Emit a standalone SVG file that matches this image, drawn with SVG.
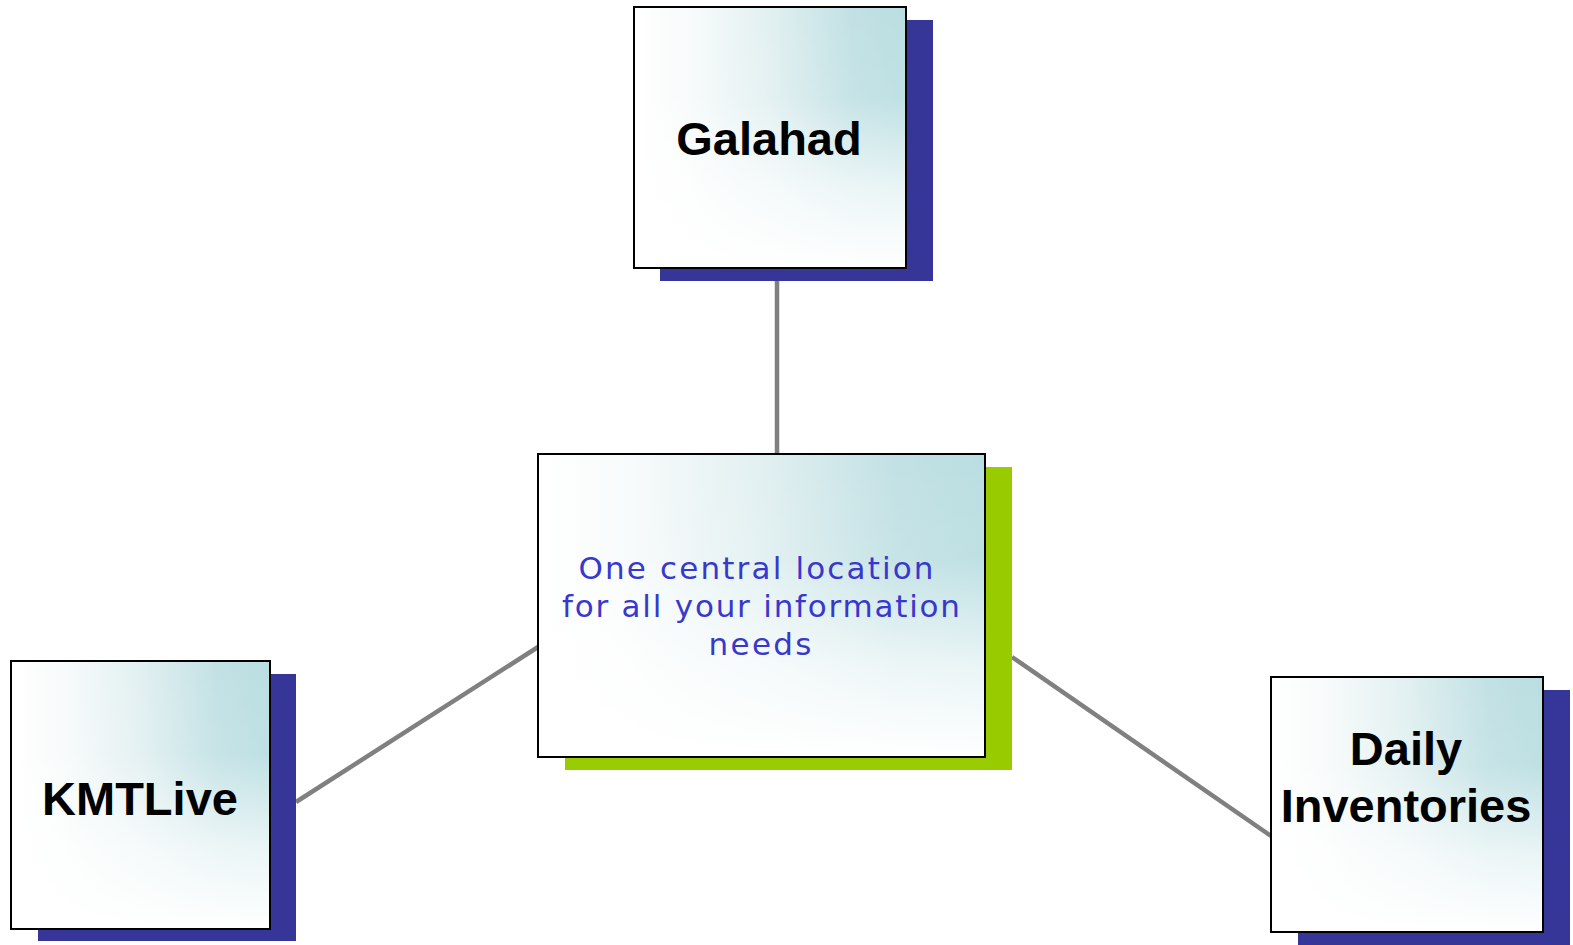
<svg xmlns="http://www.w3.org/2000/svg" width="1573" height="945" viewBox="0 0 1573 945">
<style>
.box{stroke:#000;stroke-width:2}
.shadow-blue{fill:#363699}
.shadow-green{fill:#99CC00}
.conn{stroke:#808080;stroke-width:4.5;fill:none}
.title{font-family:"Liberation Sans",Arial,sans-serif;font-weight:bold;font-size:47px;fill:#000;text-anchor:middle}
.desc{font-family:"DejaVu Sans",Verdana,sans-serif;font-size:31px;fill:#3838CC;text-anchor:middle}
</style>
<defs>
<linearGradient id="gh" x1="0" y1="0" x2="1" y2="0">
<stop offset="0" stop-color="#FFFFFF"/>
<stop offset="0.2" stop-color="#F8FBFB"/>
<stop offset="0.5" stop-color="#E2F0F1"/>
<stop offset="0.8" stop-color="#C2E1E4"/>
<stop offset="1" stop-color="#B9DEE1"/>
</linearGradient>
<linearGradient id="gv" x1="0" y1="0" x2="0" y2="1">
<stop offset="0" stop-color="#FFFFFF" stop-opacity="0"/>
<stop offset="0.35" stop-color="#FFFFFF" stop-opacity="0.08"/>
<stop offset="0.7" stop-color="#FFFFFF" stop-opacity="0.7"/>
<stop offset="1" stop-color="#FFFFFF" stop-opacity="1"/>
</linearGradient>
</defs>
<rect width="1573" height="945" fill="#FFFFFF"/>
<g id="connectors">
<line class="conn" x1="777" y1="281" x2="777" y2="454"/>
<line class="conn" x1="296" y1="802" x2="538" y2="647"/>
<line class="conn" x1="1012" y1="657" x2="1271" y2="836"/>
</g>
<g id="galahad">
<rect class="shadow-blue" x="660" y="20" width="273" height="261"/>
<rect x="634" y="7" width="272" height="261" fill="url(#gh)"/>
<rect class="box" x="634" y="7" width="272" height="261" fill="url(#gv)"/>
<text class="title" x="769" y="155">Galahad</text>
</g>
<g id="center">
<rect class="shadow-green" x="565" y="467" width="447" height="303"/>
<rect x="538" y="454" width="447" height="303" fill="url(#gh)"/>
<rect class="box" x="538" y="454" width="447" height="303" fill="url(#gv)"/>
<text class="desc" x="756" y="579" textLength="355" lengthAdjust="spacing">One central location</text>
<text class="desc" x="761" y="617" textLength="398" lengthAdjust="spacing">for all your information</text>
<text class="desc" x="760" y="655" textLength="103" lengthAdjust="spacing">needs</text>
</g>
<g id="kmtlive">
<rect class="shadow-blue" x="38" y="674" width="258" height="267"/>
<rect x="11" y="661" width="259" height="268" fill="url(#gh)"/>
<rect class="box" x="11" y="661" width="259" height="268" fill="url(#gv)"/>
<text class="title" x="140" y="815">KMTLive</text>
</g>
<g id="daily">
<rect class="shadow-blue" x="1298" y="690" width="272" height="255"/>
<rect x="1271" y="677" width="272" height="255" fill="url(#gh)"/>
<rect class="box" x="1271" y="677" width="272" height="255" fill="url(#gv)"/>
<text class="title" x="1406" y="765">Daily</text>
<text class="title" x="1406" y="822">Inventories</text>
</g>
</svg>
